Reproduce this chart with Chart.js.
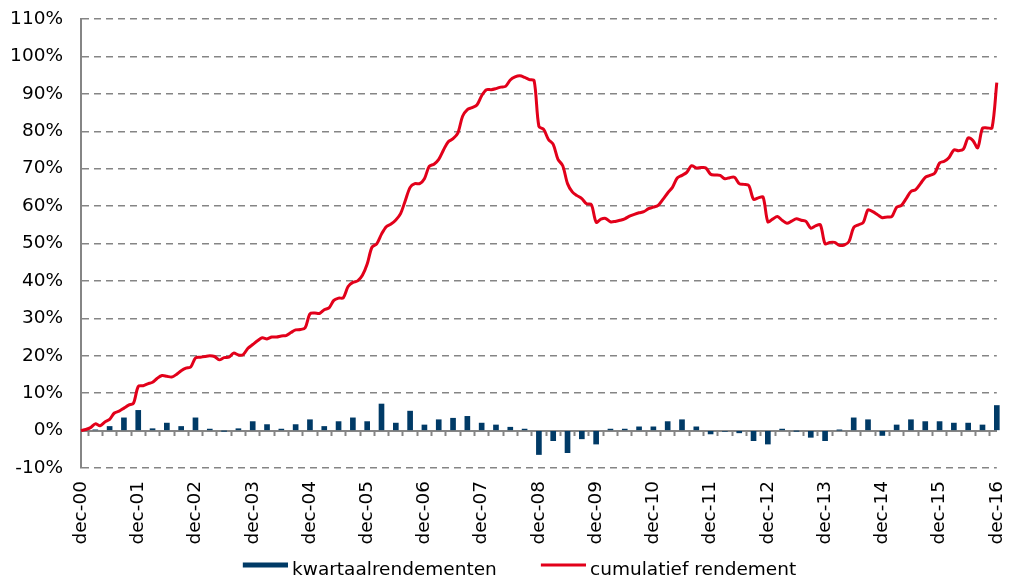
<!DOCTYPE html>
<html>
<head>
<meta charset="utf-8">
<script src="https://cdn.jsdelivr.net/npm/chart.js@4/dist/chart.umd.min.js"></script>
<style>
  html, body { margin: 0; padding: 0; background: #fff; }
  #wrap { width: 1032px; height: 578px; position: relative; }
</style>
</head>
<body>
<div id="wrap"><canvas id="chart"></canvas></div>
<script>
// x-axis labels (one per year, every 12 months)
const yearLabels = ['dec-00', 'dec-01', 'dec-02', 'dec-03', 'dec-04', 'dec-05', 'dec-06', 'dec-07', 'dec-08',
  'dec-09', 'dec-10', 'dec-11', 'dec-12', 'dec-13', 'dec-14', 'dec-15', 'dec-16'];

// quarterly returns (%), mar-01 .. dec-16
const kwartaal = [
  0.2, 1.1, 3.4, 5.4,   0.5, 2.0, 1.1, 3.4,   0.4, -0.1, 0.5, 2.4,   1.6, 0.4, 1.6, 2.9,
  1.1, 2.4, 3.4, 2.4,   7.1, 2.0, 5.2, 1.5,   2.9, 3.3, 3.8, 2.0,   1.5, 0.9, 0.4, -6.4,
  -2.7, -5.9, -2.2, -3.6,   0.4, 0.4, 1.0, 1.0,   2.4, 2.9, 1.0, -0.9,   -0.2, -0.6, -2.7, -3.6,
  0.4, -0.1, -1.8, -2.7,   0.1, 3.4, 2.9, -1.3,   1.5, 2.9, 2.4, 2.4,   2.0, 2.0, 1.5, 6.7
];

// cumulative return (%), monthly, dec-00 .. dec-16
const cumulatief = [
  0, 0.3, 0.8, 1.8, 1.3, 2.3, 3.0, 4.7, 5.2, 6.0, 6.8, 7.3,
  11.8, 12.0, 12.5, 12.9, 14.0, 14.7, 14.5, 14.3, 15.0, 16.0, 16.7, 17.0,
  19.4, 19.6, 19.8, 20.0, 19.8, 18.9, 19.5, 19.6, 20.7, 20.2, 20.3, 22.0,
  23.0, 24.0, 24.8, 24.5, 25.0, 25.0, 25.3, 25.4, 26.2, 26.9, 27.0, 27.5,
  31.2, 31.4, 31.3, 32.3, 32.8, 34.8, 35.4, 35.5, 38.5, 39.6, 40.0, 41.5,
  44.5, 49.0, 49.9, 52.5, 54.5, 55.2, 56.3, 58.0, 61.5, 65.0, 66.0, 66.0,
  67.3, 70.6, 71.2, 72.5, 75.0, 77.2, 78.0, 79.5, 84.0, 85.8, 86.3, 87.0,
  89.5, 91.1, 91.1, 91.4, 91.8, 92.0, 93.7, 94.5, 94.8, 94.4, 93.8, 93.5,
  81.3, 80.5, 77.8, 76.5, 72.5, 70.8, 66.0, 63.8, 62.8, 62.0, 60.6, 60.4,
  55.7, 56.5, 56.7, 55.8, 55.9, 56.2, 56.6, 57.3, 57.8, 58.2, 58.5, 59.3,
  59.7, 60.2, 61.8, 63.5, 65.0, 67.5, 68.2, 69.0, 70.8, 70.2, 70.3, 70.2,
  68.5, 68.3, 68.2, 67.3, 67.6, 67.7, 66.0, 65.8, 65.5, 61.8, 62.2, 62.4,
  55.8, 56.5, 57.2, 56.2, 55.4, 56.0, 56.6, 56.2, 55.9, 54.1, 54.7, 55.0,
  49.9, 50.3, 50.3, 49.5, 49.6, 50.5, 54.3, 55.0, 55.6, 59.0, 58.5, 57.7,
  56.9, 57.1, 57.2, 59.7, 60.2, 62.0, 63.9, 64.4, 66.0, 67.7, 68.2, 68.8,
  71.5, 72.0, 73.0, 75.0, 74.8, 75.2, 78.2, 77.5, 75.6, 80.8, 80.9, 80.9,
  93.0
];

const NAVY = '#003a66';
const RED = '#e2001a';
const GREY = '#858585';
const FONT = { family: 'DejaVu Sans', size: 18.5 };

// legend swatches: 45px mark at the right of a wider transparent image,
// drawn a bit above the text middle like in the original
const BOX_W = 58;
function swatch(h, color) {
  const c = document.createElement('canvas');
  c.width = BOX_W + 10;
  c.height = 20;
  const g = c.getContext('2d');
  g.fillStyle = color;
  g.fillRect(c.width - 45, 5 - h / 2, 45, h);
  return c;
}

const barData = kwartaal.map((v, i) => ({ x: (i + 1) * 3, y: v }));
const lineData = cumulatief.map((v, i) => ({ x: i, y: v }));

new Chart(document.getElementById('chart'), {
  type: 'bar',
  data: {
    datasets: [
      {
        type: 'line',
        label: 'cumulatief rendement',
        data: lineData,
        borderColor: RED,
        backgroundColor: RED,
        borderWidth: 3,
        pointRadius: 0,
        tension: 0.3,
        pointStyle: swatch(3, RED),
        clip: false
      },
      {
        type: 'bar',
        label: 'kwartaalrendementen',
        data: barData,
        backgroundColor: NAVY,
        barThickness: 5,
        pointStyle: swatch(5, NAVY),
        clip: false
      }
    ]
  },
  options: {
    responsive: true,
    maintainAspectRatio: false,
    animation: false,
    layout: { padding: { top: 19, right: 11, bottom: 0, left: 0 } },
    scales: {
      // main x scale, only reserves the room under the plot
      x: {
        type: 'linear',
        min: 0,
        max: 192,
        offset: false,
        grid: { display: false, drawTicks: false },
        border: { display: false },
        ticks: { display: false },
        afterFit: scale => { scale.height = 66.75; }
      },
      // year labels, hung under the -10% line
      xl: {
        type: 'linear',
        position: { y: -10 },
        min: 0,
        max: 192,
        offset: false,
        grid: { display: false, drawTicks: false },
        border: { display: false },
        ticks: {
          stepSize: 12,
          autoSkip: false,
          minRotation: 90,
          maxRotation: 90,
          padding: 13,
          color: '#000',
          font: FONT,
          callback: v => yearLabels[v / 12]
        }
      },
      // zero line with quarter tick marks
      x0: {
        type: 'linear',
        position: { y: 0 },
        min: 0,
        max: 192,
        offset: false,
        ticks: { display: false, stepSize: 3, autoSkip: false },
        grid: { drawOnChartArea: false, drawTicks: true, tickLength: 4, tickColor: GREY, tickWidth: 2 },
        border: { display: true, color: GREY, width: 2 }
      },
      y: {
        min: -10,
        max: 110,
        ticks: {
          stepSize: 10,
          padding: 2,
          color: '#000',
          font: FONT,
          callback: v => v + '%'
        },
        grid: { color: GREY, lineWidth: 1.5, drawTicks: true, tickLength: 16, tickColor: 'rgba(0,0,0,0)' },
        border: { display: true, color: GREY, width: 2, dash: [7, 5] },
        afterFit: scale => { scale.width = 81; }
      }
    },
    plugins: {
      tooltip: { enabled: false },
      legend: {
        position: 'bottom',
        reverse: true,
        maxHeight: 43.25,
        labels: {
          usePointStyle: true,
          pointStyleWidth: BOX_W,
          padding: 26,
          color: '#000',
          font: FONT
        }
      }
    }
  }
});
</script>
</body>
</html>
